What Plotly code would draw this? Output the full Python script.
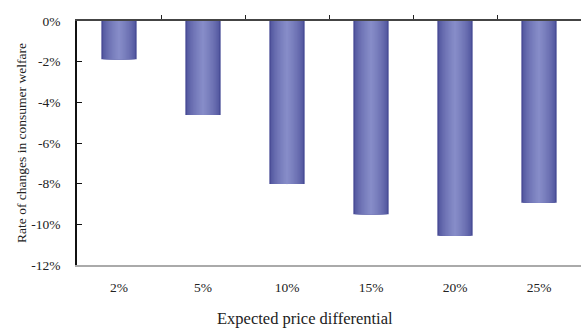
import plotly.graph_objects as go

categories = ["2%", "5%", "10%", "15%", "20%", "25%"]
welfare_change = [-1.88, -4.62, -8.02, -9.5, -10.56, -8.94]
y_tickvals = [0, -2, -4, -6, -8, -10, -12]
y_ticktext = ["0%", "-2%", "-4%", "-6%", "-8%", "-10%", "-12%"]

FONT = "Liberation Serif"
TICK_FONT = dict(family=FONT, size=13.5, color="#222")

# Cylinder-style shading: stacked overlays, narrower and lighter toward the centre
edge = (72, 76, 150)
centre = (134, 140, 200)
n_layers = 12
full_width = 0.42

fig = go.Figure()
x_idx = list(range(len(categories)))
for i in range(n_layers):
    t = i / (n_layers - 1)
    w = full_width * (1 - 0.92 * t)
    s = t ** 0.6
    col = tuple(round(edge[k] + (centre[k] - edge[k]) * s) for k in range(3))
    fig.add_trace(go.Bar(
        x=x_idx, y=welfare_change, width=w,
        marker=dict(color="rgb(%d,%d,%d)" % col, line=dict(width=0)),
        hoverinfo="skip" if i else None,
        showlegend=False,
    ))

fig.update_layout(
    barmode="overlay",
    width=581, height=329,
    margin=dict(l=77, r=0, t=21, b=64),
    paper_bgcolor="white", plot_bgcolor="white",
    font=dict(family=FONT, size=14, color="#222"),
    xaxis=dict(
        range=[-0.5, 5.5], tickmode="array", tickvals=x_idx, ticktext=categories,
        tickfont=TICK_FONT,
        showline=True, linecolor="#aaaaaa", linewidth=1.5,
        ticks="", showgrid=False, zeroline=False,
        ticklabelstandoff=9,
    ),
    xaxis2=dict(
        overlaying="x", side="top", anchor="y", range=[-0.5, 5.5],
        tickmode="array", tickvals=[0.5, 1.5, 2.5, 3.5, 4.5],
        showticklabels=False, ticks="outside", ticklen=4, tickcolor="#222", tickwidth=1,
        showline=True, linecolor="#444", linewidth=1.5, showgrid=False, zeroline=False,
    ),
    yaxis=dict(
        range=[-12, 0], tickmode="array", tickvals=y_tickvals, ticktext=y_ticktext,
        tickfont=TICK_FONT,
        showline=True, linecolor="#111", linewidth=1.5,
        ticks="inside", ticklen=5, tickcolor="#111",
        showgrid=False, zeroline=False, ticklabelstandoff=12,
        title=dict(text="Rate of changes in consumer welfare", font=dict(size=13.5, family=FONT), standoff=2),
    ),
    annotations=[dict(
        text="Expected price differential", xref="paper", yref="paper",
        x=(305 - 77) / 504, y=-(318 - 265) / 244, xanchor="center", yanchor="middle",
        showarrow=False, font=dict(size=16.5, family=FONT, color="#222"),
    )],
)
# placeholder trace so the top axis is drawn
fig.add_trace(go.Scatter(x=[None], y=[None], xaxis="x2", showlegend=False))

fig.write_html("out.html")
